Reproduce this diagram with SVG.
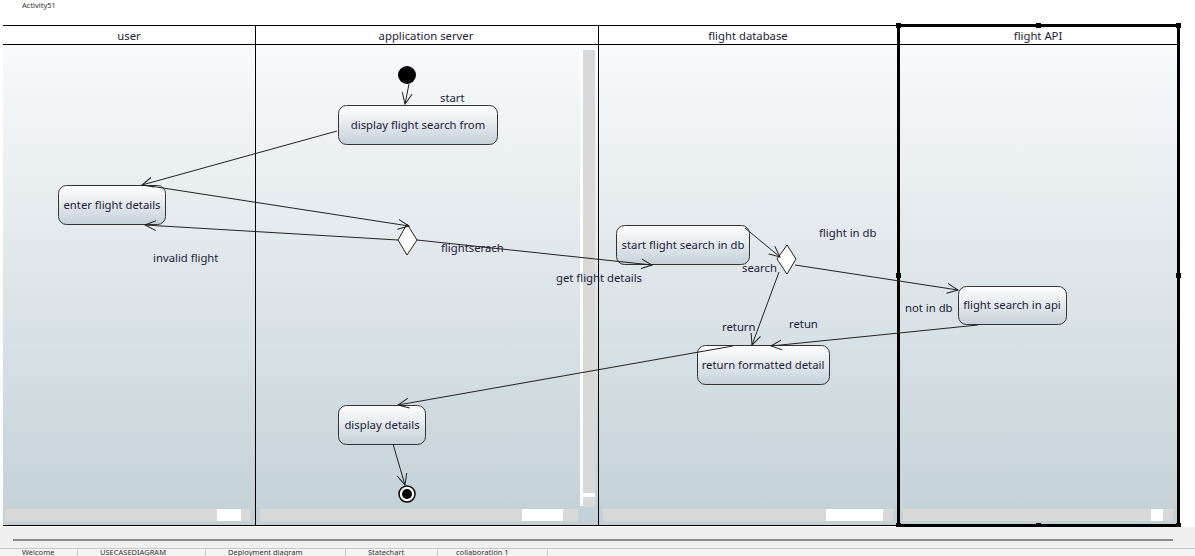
<svg xmlns="http://www.w3.org/2000/svg" width="1195" height="556" viewBox="0 0 1195 556">
<defs>
<linearGradient id="bg" x1="0" y1="0" x2="0" y2="1">
<stop offset="0" stop-color="#fbfcfd"/>
<stop offset="1" stop-color="#c3d1d7"/>
</linearGradient>
<linearGradient id="nodeg" x1="0" y1="0" x2="0" y2="1">
<stop offset="0" stop-color="#ffffff"/>
<stop offset="1" stop-color="#c5d1d8"/>
</linearGradient>
<marker id="arr" viewBox="0 0 12 12" refX="11" refY="6" markerWidth="12" markerHeight="12" markerUnits="userSpaceOnUse" orient="auto">
<path d="M0,1 L11,6 L0,11" fill="none" stroke="#222" stroke-width="1"/>
</marker>
</defs>
<style>
text{font-family:"Noto Sans","Open Sans","Liberation Sans",sans-serif;font-size:11.3px;fill:#1c1c38}
.c{text-anchor:middle}
.small{font-size:7.5px;fill:#333}
.node{fill:url(#nodeg);stroke:#333;stroke-width:1}
.conn line{stroke:#222;stroke-width:1;marker-end:url(#arr)}
.lane{stroke:#000;stroke-width:1;fill:none}
.thick{stroke:#000;stroke-width:3;fill:none}
.sb{fill:#d9d9d9}
.th{fill:#ffffff}
.h{fill:#000}
</style>
<rect x="0" y="0" width="1195" height="556" fill="#ffffff"/>
<text class="small" x="22" y="8">Activity51</text>
<rect x="3" y="25" width="1175" height="500" fill="url(#bg)"/>
<rect x="3" y="25" width="1175" height="19" fill="#ffffff"/>
<g id="lanes">
<line class="lane" x1="3" y1="25.5" x2="1178" y2="25.5"/>
<line class="lane" x1="3" y1="44.5" x2="1178" y2="44.5"/>
<line class="lane" x1="3" y1="525.5" x2="1178" y2="525.5"/>
<line class="lane" x1="255.5" y1="25" x2="255.5" y2="525"/>
<line class="lane" x1="598.5" y1="25" x2="598.5" y2="525"/>
<rect class="thick" x="898.5" y="25.5" width="280" height="500"/>
<text class="c" x="129" y="40">user</text>
<text class="c" x="426" y="40">application server</text>
<text class="c" x="748" y="40">flight database</text>
<text class="c" x="1038" y="40">flight API</text>
<rect class="h" x="896" y="23" width="5" height="5"/>
<rect class="h" x="1036" y="23" width="5" height="5"/>
<rect class="h" x="1176" y="23" width="5" height="5"/>
<rect class="h" x="896" y="273" width="5" height="5"/>
<rect class="h" x="1176" y="273" width="5" height="5"/>
<rect class="h" x="896" y="523" width="5" height="5"/>
<rect class="h" x="1036" y="523" width="5" height="5"/>
<rect class="h" x="1176" y="523" width="5" height="5"/>
</g>
<g id="scrollbars">
<rect class="sb" x="5" y="509" width="245" height="12"/>
<rect class="th" x="217" y="509" width="24" height="12"/>
<rect class="sb" x="260" y="509" width="318" height="12"/>
<rect class="th" x="522" y="509" width="41" height="12"/>
<rect class="th" x="580" y="50" width="3" height="456"/>
<rect class="sb" x="583" y="50" width="12" height="457"/>
<rect class="th" x="583" y="493" width="12" height="4"/>
<rect class="sb" x="603" y="509" width="290" height="12"/>
<rect class="th" x="826" y="509" width="57" height="12"/>
<rect class="sb" x="903" y="509" width="270" height="12"/>
<rect class="th" x="1151" y="509" width="12" height="12"/>
</g>
<rect x="0" y="527" width="1195" height="29" fill="#f0f0f0"/>
<rect x="13" y="539" width="1160" height="2" fill="#8c8c8c"/>
<g id="tabs">
<rect x="0" y="548" width="1195" height="8" fill="#f4f4f4"/>
<line x1="0" y1="548.5" x2="1195" y2="548.5" stroke="#c8c8c8"/>
<line x1="77.5" y1="548" x2="77.5" y2="556" stroke="#c8c8c8"/>
<line x1="205.5" y1="548" x2="205.5" y2="556" stroke="#c8c8c8"/>
<line x1="345.5" y1="548" x2="345.5" y2="556" stroke="#c8c8c8"/>
<line x1="437.5" y1="548" x2="437.5" y2="556" stroke="#c8c8c8"/>
<line x1="547.5" y1="548" x2="547.5" y2="556" stroke="#c8c8c8"/>
<text class="small" x="22" y="555">Welcome</text>
<text class="small" x="100" y="555">USECASEDIAGRAM</text>
<text class="small" x="228" y="555">Deployment diagram</text>
<text class="small" x="368" y="555">Statechart</text>
<text class="small" x="456" y="555">collaboration 1</text>
</g>
<g id="labels">
<text x="440" y="102">start</text>
<text x="153" y="262">invalid flight</text>
<text x="441" y="252">flightserach</text>
<text x="556" y="282">get flight details</text>
<text x="742" y="272">search</text>
<text x="819" y="237">flight in db</text>
<text x="905" y="312">not in db</text>
<text x="722" y="331">return</text>
<text x="789" y="328">retun</text>
</g>
<g id="start"><circle cx="407" cy="75" r="9" fill="#000"/></g>
<g id="n1"><rect class="node" x="338.5" y="105.5" width="159" height="39" rx="8"/><text class="c" x="418" y="129">display flight search from</text></g>
<g id="n2"><rect class="node" x="58.5" y="185.5" width="107" height="39" rx="8"/><text class="c" x="112" y="209">enter flight details</text></g>
<g id="d1"><polygon points="407,224 417,240 407,255 398,240" fill="#fff" stroke="#222"/></g>
<g id="n3"><rect class="node" x="616.5" y="225.5" width="133" height="39" rx="8"/><text class="c" x="683" y="249">start flight search in db</text></g>
<g id="d2"><polygon points="787,245 796,259 787,274 777,259" fill="#fff" stroke="#222"/></g>
<g id="n4"><rect class="node" x="958.5" y="286.5" width="108" height="38" rx="8"/><text class="c" x="1012" y="309">flight search in api</text></g>
<g id="n5"><rect class="node" x="697.5" y="345.5" width="132" height="39" rx="8"/><text class="c" x="763" y="369">return formatted detail</text></g>
<g id="n6"><rect class="node" x="338.5" y="405.5" width="87" height="39" rx="8"/><text class="c" x="382" y="429">display details</text></g>
<g id="end"><circle cx="407" cy="494" r="8" fill="#fff" stroke="#000" stroke-width="1.5"/><circle cx="407" cy="494" r="5" fill="#000"/></g>
<g class="conn" id="connectors">
<line x1="409" y1="84" x2="405" y2="104"/>
<line x1="337" y1="131" x2="142" y2="185"/>
<line x1="150" y1="186" x2="409" y2="226"/>
<line x1="398" y1="240" x2="145" y2="225"/>
<line x1="417" y1="240" x2="652" y2="265"/>
<line x1="745" y1="228" x2="780" y2="257"/>
<line x1="795" y1="265" x2="958" y2="290"/>
<line x1="779" y1="272" x2="752" y2="345"/>
<line x1="978" y1="325" x2="771" y2="346"/>
<line x1="733" y1="346" x2="398" y2="405"/>
<line x1="393" y1="444" x2="405" y2="485"/>
</g>
</svg>
